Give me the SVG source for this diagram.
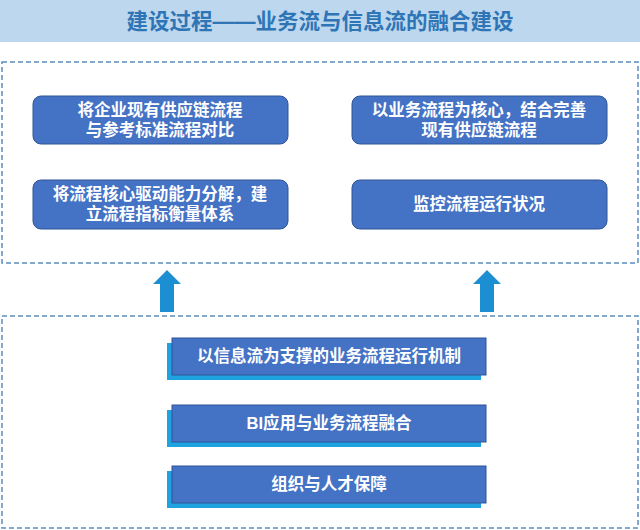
<svg xmlns="http://www.w3.org/2000/svg" width="640" height="530" viewBox="0 0 640 530">
<style>
.t{font-family:"Liberation Sans","Noto Sans CJK SC",sans-serif;font-weight:bold;fill:#fff;font-size:16.5px;text-anchor:middle}
.box{fill:#4472c4;stroke:#2f5597;stroke-width:1}
.dash{fill:none;stroke:#5b8fbf;stroke-width:1.5;stroke-dasharray:5 3}
.sh{fill:#1fa3e0}
.ar{fill:#1b8fd2}
</style>
<rect width="640" height="530" fill="#fff"/>
<g id="title"><rect x="0" y="0" width="640" height="42" fill="#bdd7ee"/>
<text x="320" y="29" style="font-family:'Liberation Sans','Noto Sans CJK SC',sans-serif;font-weight:bold;font-size:21.5px;fill:#2e75b6" text-anchor="middle">建设过程——业务流与信息流的融合建设</text></g>
<rect class="dash" x="2" y="62" width="636" height="201"/>
<rect class="dash" x="2" y="316" width="636" height="212"/>
<g id="n1"><rect class="box" x="33" y="96" width="255" height="48" rx="8"/><text class="t" x="160" y="116">将企业现有供应链流程</text><text class="t" x="160" y="136">与参考标准流程对比</text></g>
<g id="n2"><rect class="box" x="352" y="96" width="255" height="48" rx="8"/><text class="t" x="479" y="116">以业务流程为核心，结合完善</text><text class="t" x="479" y="136">现有供应链流程</text></g>
<g id="n3"><rect class="box" x="33" y="180" width="255" height="49" rx="8"/><text class="t" x="160" y="200">将流程核心驱动能力分解，建</text><text class="t" x="160" y="220">立流程指标衡量体系</text></g>
<g id="n4"><rect class="box" x="352" y="180" width="255" height="49" rx="8"/><text class="t" x="479" y="210">监控流程运行状况</text></g>
<g id="n5"><rect class="sh" x="167" y="343" width="314" height="37"/><rect class="box" x="172" y="338" width="314" height="37"/><text class="t" x="329" y="362">以信息流为支撑的业务流程运行机制</text></g>
<g id="n6"><rect class="sh" x="167" y="410" width="314" height="37"/><rect class="box" x="172" y="405" width="314" height="37"/><text class="t" x="329" y="429">BI应用与业务流程融合</text></g>
<g id="n7"><rect class="sh" x="167" y="471" width="314" height="37"/><rect class="box" x="172" y="466" width="314" height="37"/><text class="t" x="329" y="490">组织与人才保障</text></g>
<g id="connectors">
<polygon class="ar" points="167,270 181,284 174,284 174,312 160,312 160,284 153,284"/>
<polygon class="ar" points="487,270 501,284 494,284 494,312 480,312 480,284 473,284"/>
</g>
</svg>
